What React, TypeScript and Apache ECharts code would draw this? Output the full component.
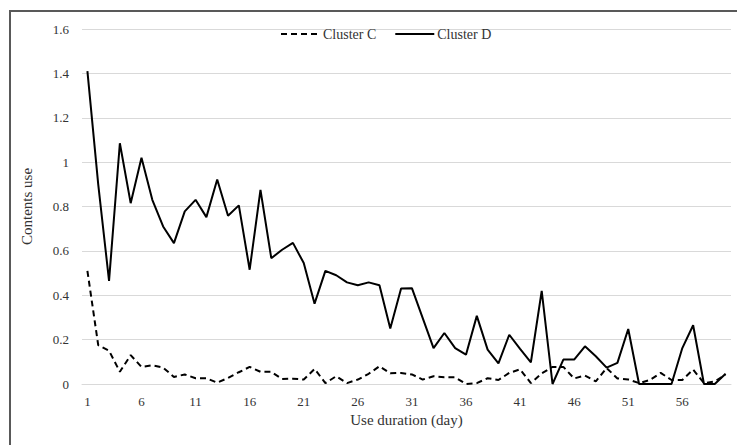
import React, { useEffect, useRef } from "react";
import * as echarts from "echarts";

const days: string[] = Array.from({ length: 60 }, (_, i) => String(i + 1));

const clusterC: number[] = [
  0.51, 0.175, 0.15, 0.055, 0.13, 0.077, 0.084, 0.074, 0.032, 0.043,
  0.026, 0.026, 0.006, 0.027, 0.053, 0.077, 0.055, 0.055, 0.022, 0.024,
  0.02, 0.068, 0.004, 0.035, 0.004, 0.02, 0.046, 0.08, 0.048, 0.05,
  0.043, 0.02, 0.035, 0.03, 0.03, 0, 0.004, 0.026, 0.018, 0.05,
  0.066, 0.004, 0.048, 0.077, 0.077, 0.025, 0.038, 0.012, 0.072, 0.025,
  0.02, 0.004, 0.018, 0.05, 0.018, 0.018, 0.065, 0.004, 0.012, 0.042,
];

const clusterD: number[] = [
  1.41, 0.9, 0.465, 1.085, 0.815, 1.02, 0.83, 0.71, 0.635, 0.778,
  0.83, 0.752, 0.922, 0.758, 0.805, 0.515, 0.875, 0.567, 0.605, 0.636,
  0.545, 0.362, 0.51, 0.49, 0.458, 0.445, 0.458, 0.445, 0.25, 0.43,
  0.432, 0.297, 0.162, 0.23, 0.162, 0.132, 0.307, 0.155, 0.093, 0.222,
  0.158, 0.098, 0.42, 0, 0.11, 0.11, 0.17, 0.125, 0.074, 0.095,
  0.248, 0, 0, 0, 0, 0.162, 0.265, 0, 0, 0.046,
];

const FONT = "Liberation Serif";
const TEXT = "#333333";

export default function App() {
  const ref = useRef<HTMLDivElement>(null);
  useEffect(() => {
    if (!ref.current) return;
    const chart = echarts.init(ref.current, undefined, { renderer: "svg" });
    chart.setOption({
      animation: false,
      backgroundColor: "#ffffff",
      textStyle: { fontFamily: FONT, color: TEXT },
      graphic: [
        {
          type: "rect",
          shape: { x: 10, y: 11, width: 740, height: 450 },
          style: { fill: "none", stroke: "#595959", lineWidth: 2 },
          silent: true,
        },
      ],
      legend: {
        left: 275,
        top: 22,
        itemWidth: 39,
        itemHeight: 14,
        itemGap: 18,
        itemStyle: { opacity: 0 },
        textStyle: { fontFamily: FONT, fontSize: 14, color: TEXT, padding: [0, 0, 0, -2] },
        data: ["Cluster C", "Cluster D"],
      },
      grid: { left: 82, right: 6, top: 29, bottom: 61 },
      xAxis: {
        type: "category",
        data: days,
        boundaryGap: true,
        name: "Use duration (day)",
        nameLocation: "middle",
        nameGap: 28,
        nameTextStyle: { fontFamily: FONT, fontSize: 15, color: TEXT },
        axisLine: { show: true, lineStyle: { color: "#d9d9d9", width: 1 } },
        axisTick: { show: false },
        axisLabel: {
          interval: 4,
          margin: 11,
          fontFamily: FONT,
          fontSize: 13,
          color: TEXT,
        },
        splitLine: { show: false },
      },
      yAxis: {
        type: "value",
        min: 0,
        max: 1.6,
        interval: 0.2,
        name: "Contents use",
        nameLocation: "middle",
        nameGap: 48,
        nameTextStyle: { fontFamily: FONT, fontSize: 15, color: TEXT },
        axisLine: { show: false },
        axisTick: { show: false },
        axisLabel: {
          margin: 13,
          fontFamily: FONT,
          fontSize: 13,
          color: TEXT,
        },
        splitLine: { show: true, lineStyle: { color: "#d9d9d9", width: 1 } },
      },
      series: [
        {
          name: "Cluster C",
          type: "line",
          data: clusterC,
          symbol: "none",
          lineStyle: { color: "#000000", width: 2, type: [6, 4] },
          itemStyle: { color: "#000000" },
        },
        {
          name: "Cluster D",
          type: "line",
          data: clusterD,
          symbol: "none",
          lineStyle: { color: "#000000", width: 2 },
          itemStyle: { color: "#000000" },
        },
      ],
    });
    return () => chart.dispose();
  }, []);
  return (
    <div
      ref={ref}
      style={{ position: "fixed", left: 0, top: 0, width: 737, height: 445 }}
    />
  );
}
